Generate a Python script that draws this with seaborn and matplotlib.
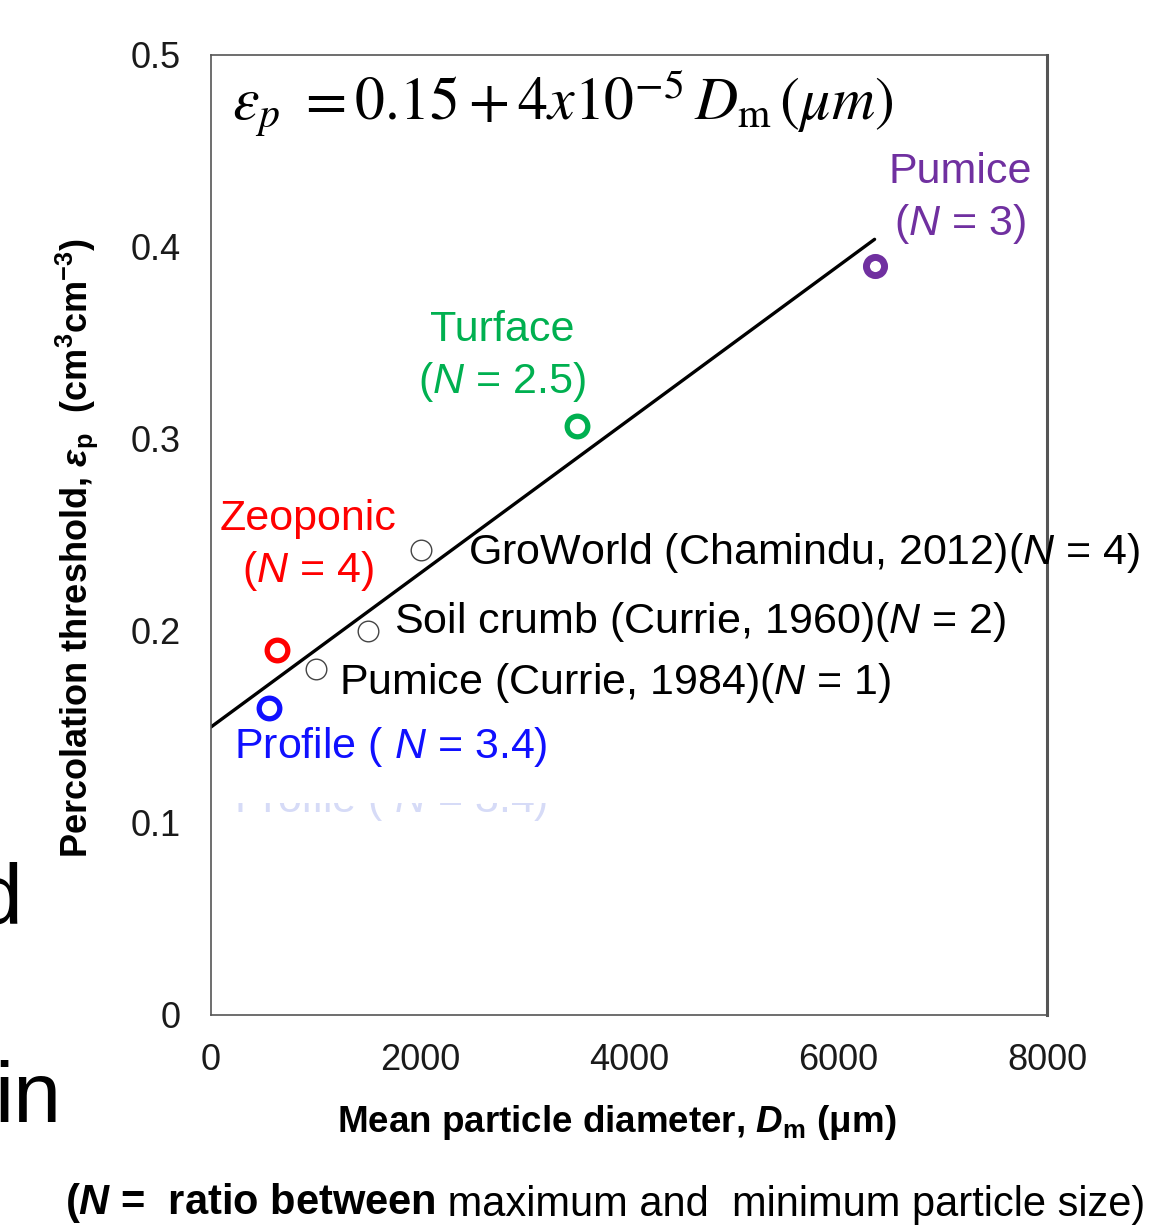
import numpy as np
import pandas as pd
import matplotlib
matplotlib.use('Agg')
import matplotlib.pyplot as plt
import seaborn as sns
from matplotlib.patches import Rectangle

# data
names = ['Profile', 'Zeoponic', 'Pumice (Currie, 1984)', 'Soil crumb (Currie, 1960)',
         'GroWorld (Chamindu, 2012)', 'Turface', 'Pumice']
diam = [555, 632, 1005, 1502, 2010, 3502, 6354]
eps_p = [0.160, 0.190, 0.180, 0.200, 0.242, 0.307, 0.390]
colors = ['#1010ff', '#ff0000', '#444444', '#444444', '#444444', '#00b050', '#7030a0']
hollow = [False, False, True, True, True, False, False]

fit_x = [0, 6350]
fit_y = [0.150, 0.404]

xticks = [0, 2000, 4000, 6000, 8000]
yticks = [0, 0.1, 0.2, 0.3, 0.4, 0.5]
ytick_labels = ['0', '0.1', '0.2', '0.3', '0.4', '0.5']

df = pd.DataFrame({'name': names, 'Dm': diam, 'eps': eps_p, 'color': colors, 'grey': hollow})

sns.set_theme(style='white')
plt.rcParams['font.family'] = ['Liberation Sans', 'DejaVu Sans']
plt.rcParams['text.color'] = 'black'
plt.rcParams['axes.labelcolor'] = 'black'
plt.rcParams['mathtext.fontset'] = 'custom'
plt.rcParams['mathtext.rm'] = 'Liberation Sans'
plt.rcParams['mathtext.it'] = 'Liberation Sans:italic'
plt.rcParams['mathtext.bf'] = 'Liberation Sans:bold'
plt.rcParams['mathtext.bfit'] = 'Liberation Sans:bold:italic'

W, H = 1176, 1226
fig = plt.figure(figsize=(W / 100, H / 100), dpi=100)
ax = fig.add_axes([211 / W, 1 - 1015 / H, 836 / W, 960 / H])

def px(x, y):
    # pixel position -> data coords (only for text placement)
    return (x - 211) / 836 * 8000, (1015 - y) / 960 * 0.5

sns.lineplot(x=fit_x, y=fit_y, color='black', linewidth=2.4, ax=ax)

for _, r in df.iterrows():
    if r['grey']:
        sns.scatterplot(x=[r['Dm']], y=[r['eps']], s=220, color='white',
                        edgecolor=r['color'], linewidth=1.0, ax=ax, zorder=3)
    elif r['name'] == 'Pumice':
        sns.scatterplot(x=[r['Dm']], y=[r['eps']], s=170, color='white',
                        edgecolor=r['color'], linewidth=5, ax=ax, zorder=3)
    else:
        sns.scatterplot(x=[r['Dm']], y=[r['eps']], s=220, color='white',
                        edgecolor=r['color'], linewidth=3.8, ax=ax, zorder=3)

ax.set_xlim(0, 8000)
ax.set_ylim(0, 0.5)
ax.set_xticks(xticks)
ax.set_xticklabels([str(t) for t in xticks])
ax.set_yticks(yticks)
ax.set_yticklabels(ytick_labels)
ax.tick_params(axis='both', direction='out', length=8, width=1.2, color='#555555',
               labelsize=26, labelcolor='#1a1a1a')
ax.tick_params(axis='y', pad=14)
ax.tick_params(axis='x', pad=12)
for s in ax.spines.values():
    s.set_color('#555555')
    s.set_linewidth(1.2)
ax.spines['right'].set_linewidth(2.2)

ax.set_xlabel(r'Mean particle diameter, $\mathbfit{D}_\mathbf{m}$ (μm)', fontsize=26.5, fontweight='bold')
ax.set_ylabel(r'Percolation threshold, $\mathbfit{ε}_\mathbf{p}$  (cm$^\mathbf{3}$cm$^\mathbf{-3}$)',
              fontsize=26, fontweight='bold')
ax.xaxis.label.set_va('center')
ax.yaxis.label.set_va('center')
ax.xaxis.set_label_coords((617 - 211) / 836, (1015 - 1123) / 960)
ax.yaxis.set_label_coords((77 - 211) / 836, (1015 - 548) / 960)

# equation
ax.text(*px(232, 103), r'$\varepsilon_p\ = 0.15 + 4x10^{-5}\,D_{\mathrm{m}}\,(\mu m)$',
        fontsize=43, math_fontfamily='stix', ha='left', va='center', color='black')

fs = 31
ax.text(*px(960, 172), 'Pumice', color='#7030a0', fontsize=fs, ha='center', va='center')
ax.text(*px(960, 224), r'($\mathit{N}$ = 3)', color='#7030a0', fontsize=fs, ha='center', va='center')
ax.text(*px(502, 330), 'Turface', color='#00b050', fontsize=fs, ha='center', va='center')
ax.text(*px(502, 382), r'($\mathit{N}$ = 2.5)', color='#00b050', fontsize=fs, ha='center', va='center')
ax.text(*px(308, 519), 'Zeoponic', color='#ff0000', fontsize=fs, ha='center', va='center')
ax.text(*px(308, 571), r'($\mathit{N}$ = 4)', color='#ff0000', fontsize=fs, ha='center', va='center')
ax.text(*px(234, 747), r'Profile ( $\mathit{N}$ = 3.4)', color='#1010ff', fontsize=fs, ha='left', va='center')
ax.text(*px(468, 553), r'GroWorld (Chamindu, 2012)($\mathit{N}$ = 4)', color='black', fontsize=fs,
        ha='left', va='center', clip_on=False)
ax.text(*px(394, 622), r'Soil crumb (Currie, 1960)($\mathit{N}$ = 2)', color='black', fontsize=fs,
        ha='left', va='center')
ax.text(*px(339, 683), r'Pumice (Currie, 1984)($\mathit{N}$ = 1)', color='black', fontsize=fs,
        ha='left', va='center')

# faded copy of the Profile label, its upper half hidden
ax.text(*px(234, 801), r'Profile ( $\mathit{N}$ = 3.4)', color='#d6dbf7', fontsize=fs,
        ha='left', va='center', zorder=1)
x0, y0 = px(225, 803)
x1, y1 = px(560, 772)
ax.add_patch(Rectangle((x0, y0), x1 - x0, y1 - y0, facecolor='white', edgecolor='none', zorder=2))

# slide fragments on the left edge
fig.text(22 / W, 1 - 923 / H, 'd', fontsize=62, ha='right', va='baseline')
fig.text(-6 / W, 1 - 1122 / H, 'in', fontsize=62, ha='left', va='baseline')

# footnote
t1 = fig.text(65 / W, 1 - 1214 / H, r'($\mathbfit{N}$ =  ratio between', fontsize=30,
              fontweight='bold', ha='left', va='baseline')
ax.annotate(' maximum and  minimum particle size)', xy=(1, 0), xycoords=t1, fontsize=30,
            ha='left', va='bottom', annotation_clip=False)

fig.savefig('out.png', dpi=100)
